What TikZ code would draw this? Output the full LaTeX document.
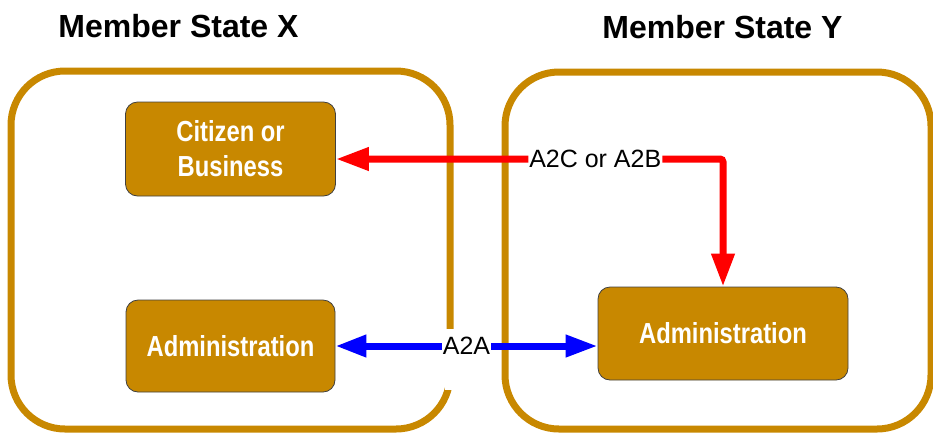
\documentclass[tikz,border=0pt]{standalone}
\usepackage{fontspec}
\setmainfont{Liberation Sans}
\newfontfamily\boxfont{Liberation Sans}[FakeStretch=0.82]
\usetikzlibrary{arrows.meta}
\definecolor{boxcol}{RGB}{200,136,0}
\definecolor{arrred}{RGB}{255,0,0}
\definecolor{arrblue}{RGB}{0,0,255}
\tikzset{
  container/.style={draw=boxcol, line width=7pt, rounded corners=54pt},
  actor/.style={rectangle, rounded corners=12pt, fill=boxcol, draw=black!75, line width=0.8pt,
    text=white, align=center, font=\boxfont\bfseries\fontsize{29}{35}\selectfont, inner sep=0pt},
  title/.style={anchor=base, font=\bfseries\fontsize{32}{38}\selectfont},
  lbl/.style={fill=white, inner sep=1pt, font=\fontsize{25}{30}\selectfont},
  redarrow/.style={draw=arrred, line width=7pt, rounded corners=3pt,
    {Triangle[length=33pt,width=22pt]}-{Triangle[length=33pt,width=22pt]}},
  bluearrow/.style={draw=arrblue, line width=7pt,
    {Triangle[length=31pt,width=21pt]}-{Triangle[length=32pt,width=21pt]}}
}
\begin{document}
\begin{tikzpicture}[x=1pt,y=-1pt]
\useasboundingbox (0,0) rectangle (933,432);
\clip (0,0) rectangle (933,432);
% containers
\draw[container] (11,71) rectangle (450,429);
\fill[white] (445,329) rectangle (456,390);
\draw[container] (505,72) rectangle (931,429);
% titles
\node[title] (tx) at (178.5,37) {Member State X};
\node[title] (ty) at (722.5,38) {Member State Y};
% actors
\node[actor, minimum width=210pt, minimum height=94pt] (cit) at (230.5,149) {Citizen or\\Business};
\node[actor, minimum width=209pt, minimum height=92pt] (admx) at (230.5,346) {Administration};
\node[actor, minimum width=250pt, minimum height=93pt] (admy) at (723,333.5) {Administration};
% connectors
\coordinate (rc) at (723,159);
\draw[redarrow] (cit.east |- rc) -- node[lbl, pos=0.67] (l1) {A2C or A2B} (rc) -- (admy.north);
\draw[bluearrow] (admx.east) -- node[lbl, pos=0.5] (l2) {A2A} (admy.west |- admx.east);
\end{tikzpicture}
\end{document}
